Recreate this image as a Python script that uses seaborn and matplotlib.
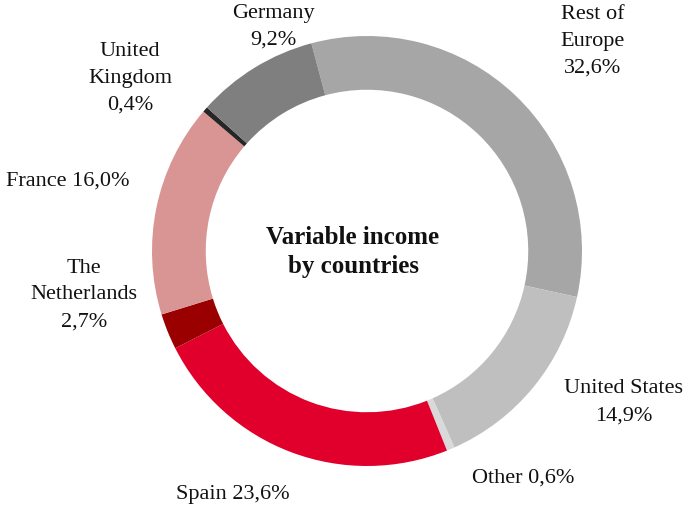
import matplotlib
matplotlib.use("Agg")
import matplotlib.pyplot as plt
import seaborn as sns

# Portfolio breakdown, clockwise from the top
countries = ["Rest of\nEurope", "United States", "Other", "Spain", "The\nNetherlands",
             "France", "United\nKingdom", "Germany"]
shares = [32.6, 14.9, 0.6, 23.6, 2.7, 16.0, 0.4, 9.2]
colors = ["#a6a6a6", "#bfbfbf", "#d9d9d9", "#e0002b", "#9b0000",
          "#d99594", "#262626", "#7f7f7f"]

# Label anchor points (data units, ring outer radius = 1) and layout per label
label_xy = [(1.051, 0.981), (1.195, -0.698), (0.726, -1.051), (-0.623, -1.126),
            (-1.316, -0.200), (-1.391, 0.330), (-1.102, 0.809), (-0.437, 1.047)]
inline = [False, False, True, True, False, True, False, False]

sns.set_theme(style="white")
plt.rcParams["font.family"] = ["Liberation Serif", "DejaVu Serif"]

fig = plt.figure(figsize=(6.88, 5.10), dpi=100)
cx, cy, r = 367, 252, 215
ax = fig.add_axes([(cx - r) / 688, (510 - cy - r) / 510, 2 * r / 688, 2 * r / 510])

ax.pie(shares, colors=colors, startangle=105, counterclock=False,
       radius=1.0, wedgeprops=dict(width=0.25, linewidth=0))
ax.set_xlim(-1, 1)
ax.set_ylim(-1, 1)
ax.axis("off")

for name, val, (x, y), one_line in zip(countries, shares, label_xy, inline):
    pct = f"{val:.1f}".replace(".", ",") + "%"
    txt = f"{name} {pct}" if one_line else f"{name}\n{pct}"
    ax.text(x, y, txt, ha="center", va="center", fontsize=16,
            linespacing=1.57, color="#111111")

ax.text(-0.065, 0.0, "Variable income\nby countries", ha="center", va="center",
        fontsize=18, fontweight="bold", linespacing=1.3, color="#111111")

fig.savefig("out.png", dpi=100)
